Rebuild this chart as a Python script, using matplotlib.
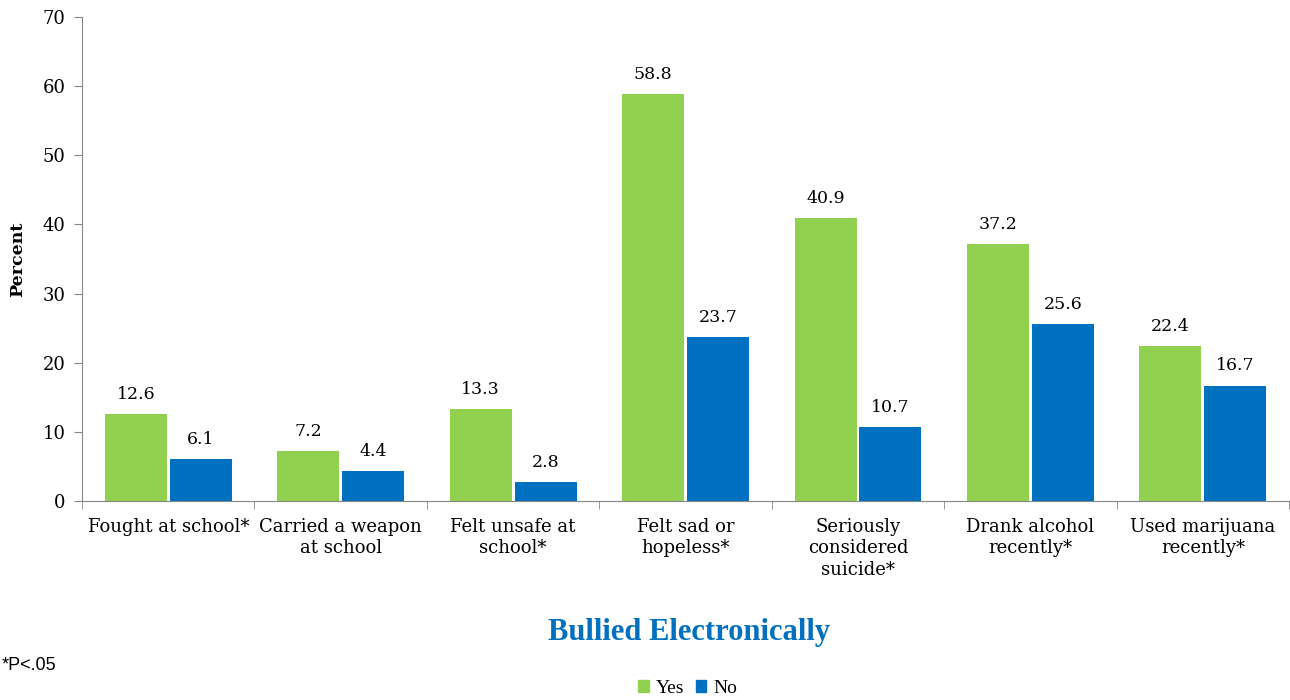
import matplotlib
matplotlib.use('Agg')
import matplotlib.pyplot as plt
from matplotlib.patches import Patch
import numpy as np

categories = ['Fought at school*', 'Carried a weapon\nat school', 'Felt unsafe at\nschool*',
              'Felt sad or\nhopeless*', 'Seriously\nconsidered\nsuicide*', 'Drank alcohol\nrecently*',
              'Used marijuana\nrecently*']
yes_vals = [12.6, 7.2, 13.3, 58.8, 40.9, 37.2, 22.4]
no_vals = [6.1, 4.4, 2.8, 23.7, 10.7, 25.6, 16.7]

GREEN = '#92D050'
BLUE = '#0070C0'
AXIS = '#868686'
SERIF = ['DejaVu Serif']

fig = plt.figure(figsize=(12.9, 7), dpi=100)
ax = fig.add_axes([0.0636, 0.2843, 0.9357, 0.6914])

x = np.arange(len(categories))
w = 0.36
gap = 0.008
ax.bar(x - w / 2 - gap, yes_vals, width=w, color=GREEN)
ax.bar(x + w / 2 + gap, no_vals, width=w, color=BLUE)

# value labels above each bar
for xi, v in zip(x, yes_vals):
    ax.text(xi - w / 2 - gap, v + 1.6, f'{v:.1f}', ha='center', va='bottom', fontsize=12.5, family=SERIF)
for xi, v in zip(x, no_vals):
    ax.text(xi + w / 2 + gap, v + 1.6, f'{v:.1f}', ha='center', va='bottom', fontsize=12.5, family=SERIF)

ax.set_xlim(-0.5, len(categories) - 0.5)
ax.set_ylim(0, 70)
ax.set_yticks(range(0, 71, 10))
ax.set_xticks(x)
ax.set_xticklabels(categories, fontsize=13, family=SERIF, linespacing=1.25)
ax.tick_params(axis='x', length=0, pad=12)
ax.set_xticks(np.arange(-0.5, len(categories) + 0.5, 1), minor=True)
ax.tick_params(axis='x', which='minor', length=6, color=AXIS, direction='out')
ax.tick_params(axis='y', length=6, color=AXIS, labelsize=13, direction='out', pad=6)
for lbl in ax.get_yticklabels():
    lbl.set_family(SERIF)

for s in ['top', 'right']:
    ax.spines[s].set_visible(False)
ax.spines['left'].set_color(AXIS)
ax.spines['bottom'].set_color(AXIS)

ax.set_ylabel('Percent', fontsize=12.5, fontweight='bold', family=SERIF, labelpad=12)

fig.text(0.534, 0.097, 'Bullied Electronically', ha='center', va='center',
         fontsize=22, fontweight='bold', color=BLUE, family=['Liberation Serif'])
fig.text(0.001, 0.05, '*P<.05', ha='left', va='center', fontsize=13,
         family=['Liberation Sans Narrow', 'Liberation Sans'])

handles = [Patch(color=GREEN, label='Yes'), Patch(color=BLUE, label='No')]
fig.legend(handles=handles, loc='center', bbox_to_anchor=(0.533, 0.017), ncol=2, frameon=False,
           prop={'family': 'Liberation Serif', 'size': 14}, handlelength=0.55, handleheight=0.55,
           handletextpad=0.35, columnspacing=0.6)

fig.savefig('out.png', dpi=100, facecolor='white')
